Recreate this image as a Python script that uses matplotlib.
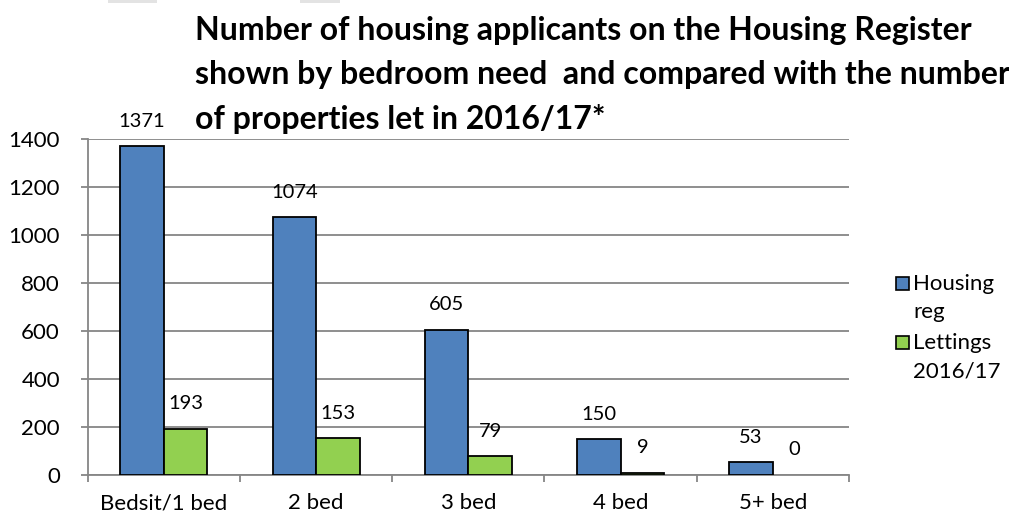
import numpy as np
import matplotlib
matplotlib.use('Agg')
import matplotlib.pyplot as plt
from matplotlib.patches import Rectangle

CATEGORIES = ['Bedsit/1 bed', '2 bed', '3 bed', '4 bed', '5+ bed']
HOUSING_REG = [1371, 1074, 605, 150, 53]
LETTINGS = [193, 153, 79, 9, 0]
SERIES_NAMES = ['Housing\nreg', 'Lettings\n2016/17']
SERIES_COLORS = ['#4F81BD', '#92D050']
Y_TICKS = [0, 200, 400, 600, 800, 1000, 1200, 1400]
TITLE = ('Number of housing applicants on the Housing Register\n'
         'shown by bedroom need  and compared with the number\n'
         'of properties let in 2016/17*')

GRID = '#868686'
plt.rcParams['font.family'] = ['Lato', 'DejaVu Sans']


def main():
    fig = plt.figure(figsize=(10.09, 5.19), dpi=100)
    ax = fig.add_axes([0.0869, 0.0848, 0.7545, 0.647])

    x = np.arange(len(CATEGORIES))
    width = 0.286
    for i, values in enumerate([HOUSING_REG, LETTINGS]):
        bars = ax.bar(x + (i - 0.5) * width, values, width,
                      color=SERIES_COLORS[i], edgecolor='black', linewidth=1.3, zorder=3)
        for bar, v in zip(bars, values):
            if v == 0:
                bar.set_linewidth(0)
            ax.annotate(str(v), (bar.get_x() + bar.get_width() / 2, v),
                        xytext=(0, 18), textcoords='offset points',
                        ha='center', va='center', fontsize=14.5)

    ax.set_xlim(-0.5, len(CATEGORIES) - 0.5)
    ax.set_ylim(0, 1400)
    ax.set_yticks(Y_TICKS)
    ax.yaxis.grid(True, color=GRID, linewidth=1.3)
    ax.set_axisbelow(True)

    ax.set_xticks(x)
    ax.set_xticklabels(CATEGORIES)
    ax.set_xticks(np.arange(len(CATEGORIES) + 1) - 0.5, minor=True)
    ax.tick_params(axis='x', which='major', length=0, pad=13, labelsize=16)
    ax.tick_params(axis='x', which='minor', length=5, width=1.3, color=GRID)
    ax.tick_params(axis='y', length=5, width=1.3, color=GRID, pad=15, labelsize=16)

    for side in ['top', 'right']:
        ax.spines[side].set_visible(False)
    for side in ['left', 'bottom']:
        ax.spines[side].set_color(GRID)
        ax.spines[side].set_linewidth(1.3)

    fig.text(195 / 1009, 1 - 75 / 519, TITLE, fontsize=23, fontweight='bold',
             ha='left', va='center', linespacing=1.62)

    # faint grey strips cut off at the top edge of the screenshot
    for left, right in [(108, 157), (300, 340)]:
        fig.patches.append(Rectangle((left / 1009, 1 - 3 / 519), (right - left) / 1009, 3 / 519,
                                     transform=fig.transFigure, facecolor='#e3e3e3',
                                     edgecolor='none'))

    # legend, square aligned with the first line of each label
    for i, name in enumerate(SERIES_NAMES):
        y = 1 - (283 + i * 59) / 519
        fig.patches.append(Rectangle((896 / 1009, y - 6.5 / 519), 13 / 1009, 13 / 519,
                                     transform=fig.transFigure, facecolor=SERIES_COLORS[i],
                                     edgecolor='black', linewidth=1.2))
        fig.text(913 / 1009, y + 9 / 519, name, fontsize=16, ha='left', va='top',
                 linespacing=1.5)

    fig.savefig('out.png', dpi=100)


if __name__ == '__main__':
    main()
